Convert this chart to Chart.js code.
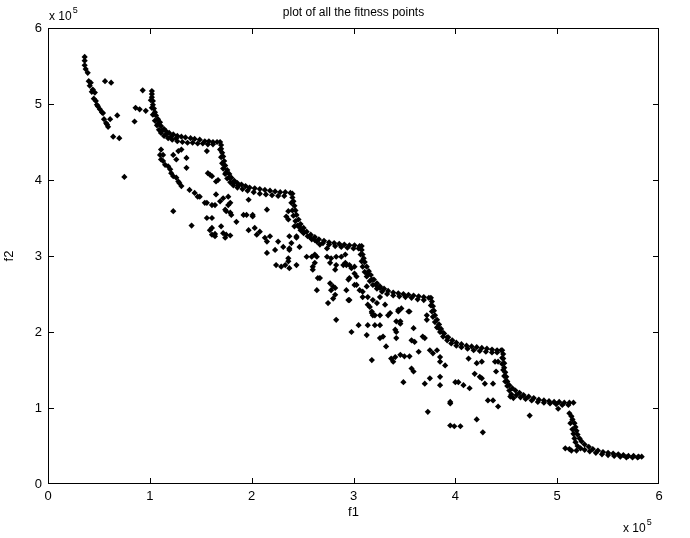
<!DOCTYPE html>
<html>
<head>
<meta charset="utf-8">
<title>plot of all the fitness points</title>
<script src="https://cdn.jsdelivr.net/npm/chart.js@4.4.0/dist/chart.umd.min.js"></script>
<style>
  html, body { margin: 0; padding: 0; background: #fff; }
  canvas { display: block; }
</style>
</head>
<body>
<canvas id="fitness" width="690" height="538"></canvas>
<script>
// all values are in units of 1e5 (the axes carry the "x 10^5" label)
const tickVals = [0, 1, 2, 3, 4, 5, 6];

// the non-dominated front, one scallop at a time
const front1 = [[1.02,5.17],[1.02,5.13],[1.02,5.09],[1.03,5.04],[1.03,4.99],[1.04,4.94],[1.05,4.89],[1.06,4.85],[1.08,4.80],[1.10,4.76],[1.11,4.71],[1.14,4.67],[1.16,4.64],[1.19,4.62],[1.23,4.60],[1.27,4.58],[1.31,4.57],[1.35,4.56],[1.40,4.55],[1.44,4.54],[1.49,4.53],[1.54,4.51],[1.58,4.51],[1.62,4.50],[1.66,4.50],
  [1.01,5.05],[1.02,4.95],[1.03,4.86],[1.05,4.78],[1.07,4.72],[1.09,4.66],[1.11,4.62],[1.14,4.58],[1.18,4.55],[1.22,4.53],[1.27,4.51],[1.32,4.50],[1.37,4.49],[1.42,4.49],[1.47,4.48],[1.52,4.48],[1.57,4.47],[1.62,4.47],
  [1.08,4.74],[1.12,4.65],[1.16,4.60],[1.21,4.57],[1.26,4.55]];
const front2 = [[1.69,4.50],[1.70,4.46],[1.70,4.41],[1.71,4.36],[1.72,4.31],[1.73,4.25],[1.74,4.19],[1.76,4.13],[1.78,4.08],[1.80,4.03],[1.83,3.99],[1.86,3.96],[1.90,3.94],[1.94,3.92],[1.98,3.90],[2.03,3.89],[2.08,3.88],[2.13,3.87],[2.18,3.86],[2.23,3.85],[2.28,3.84],[2.33,3.84],[2.38,3.83],
  [1.69,4.40],[1.70,4.30],[1.71,4.22],[1.72,4.15],[1.74,4.08],[1.76,4.02],[1.79,3.97],[1.82,3.93],[1.86,3.90],[1.91,3.88],[1.96,3.86],[2.02,3.84],[2.08,3.82],[2.14,3.81],[2.20,3.80],[2.26,3.79],[2.32,3.79],
  [1.75,4.10],[1.78,4.03],[1.82,3.96],[1.87,3.93]];
const front3 = [[2.40,3.82],[2.40,3.77],[2.41,3.72],[2.42,3.66],[2.43,3.60],[2.44,3.54],[2.46,3.48],[2.48,3.42],[2.51,3.37],[2.54,3.32],[2.58,3.28],[2.62,3.25],[2.66,3.22],[2.71,3.20],[2.76,3.18],[2.81,3.17],[2.86,3.16],[2.91,3.15],[2.96,3.14],[3.01,3.14],[3.06,3.13],
  [2.39,3.70],[2.40,3.60],[2.41,3.53],[2.43,3.46],[2.45,3.40],[2.48,3.34],[2.51,3.30],[2.55,3.26],[2.59,3.22],[2.64,3.19],[2.70,3.17],[2.76,3.15],[2.82,3.13],[2.88,3.12],[2.94,3.11],[3.00,3.10],[3.05,3.10],
  [2.47,3.38],[2.50,3.33],[2.57,3.25],[2.62,3.21]];
const front4 = [[3.08,3.13],[3.08,3.08],[3.09,3.02],[3.10,2.97],[3.11,2.92],[3.13,2.86],[3.15,2.80],[3.17,2.75],[3.20,2.69],[3.23,2.64],[3.26,2.60],[3.30,2.57],[3.34,2.54],[3.39,2.52],[3.44,2.51],[3.49,2.50],[3.54,2.49],[3.59,2.48],[3.64,2.47],[3.69,2.46],[3.74,2.45],
  [3.07,3.02],[3.08,2.93],[3.09,2.86],[3.11,2.79],[3.13,2.73],[3.16,2.67],[3.19,2.62],[3.23,2.57],[3.28,2.53],[3.33,2.50],[3.39,2.48],[3.45,2.47],[3.51,2.46],[3.57,2.45],[3.63,2.43],[3.69,2.42],
  [3.14,2.76],[3.18,2.69],[3.22,2.62],[3.26,2.58]];
const front5 = [[3.76,2.45],[3.77,2.40],[3.78,2.34],[3.79,2.28],[3.80,2.22],[3.82,2.16],[3.84,2.10],[3.86,2.04],[3.89,1.98],[3.93,1.93],[3.97,1.89],[4.01,1.86],[4.06,1.84],[4.11,1.82],[4.16,1.81],[4.21,1.80],[4.26,1.79],[4.31,1.78],[4.36,1.77],[4.41,1.76],[4.45,1.76],
  [3.76,2.35],[3.77,2.27],[3.78,2.20],[3.80,2.13],[3.82,2.06],[3.85,2.00],[3.88,1.94],[3.92,1.89],[3.96,1.85],[4.01,1.82],[4.06,1.80],[4.12,1.78],[4.18,1.76],[4.24,1.75],[4.30,1.74],[4.36,1.73],[4.41,1.73],
  [3.84,2.05],[3.88,1.99],[3.92,1.93]];
const front6 = [[4.46,1.76],[4.47,1.71],[4.47,1.65],[4.48,1.59],[4.48,1.53],[4.49,1.47],[4.50,1.41],[4.51,1.35],[4.53,1.30],[4.56,1.26],[4.59,1.23],[4.63,1.20],[4.67,1.17],[4.72,1.15],[4.77,1.13],[4.82,1.11],[4.87,1.10],[4.92,1.09],[4.97,1.08],[5.02,1.08],[5.07,1.07],[5.12,1.07],[5.16,1.07],
  [4.46,1.66],[4.46,1.58],[4.47,1.50],[4.48,1.42],[4.49,1.35],[4.51,1.29],[4.53,1.23],[4.55,1.18],[4.57,1.13],[4.60,1.17],[4.64,1.14],[4.69,1.12],[4.75,1.10],[4.81,1.08],[4.87,1.07],[4.93,1.06],[4.99,1.05],[5.05,1.04],[5.11,1.04],[5.01,0.99],[4.54,1.15]];
const front7 = [[5.12,0.93],[5.14,0.89],[5.15,0.85],[5.17,0.80],[5.18,0.75],[5.19,0.70],[5.20,0.65],[5.22,0.60],[5.24,0.56],[5.27,0.52],[5.31,0.49],[5.35,0.46],[5.40,0.44],[5.45,0.42],[5.50,0.41],[5.55,0.40],[5.60,0.39],[5.65,0.38],[5.70,0.37],[5.75,0.37],[5.80,0.36],[5.83,0.36],
  [5.13,0.80],[5.15,0.72],[5.16,0.66],[5.17,0.60],[5.18,0.55],[5.20,0.50],[5.23,0.47],[5.27,0.45],[5.32,0.43],[5.38,0.41],[5.44,0.39],[5.50,0.38],[5.56,0.37],[5.62,0.36],[5.68,0.35],[5.74,0.35],[5.79,0.35],
  [5.08,0.47],[5.12,0.46],[5.14,0.44],[5.19,0.44]];

// dominated points below the front
const scatterLeft = [[0.36,5.62],[0.36,5.57],[0.36,5.51],[0.37,5.46],[0.39,5.41],[0.40,5.30],[0.42,5.28],[0.41,5.24],[0.44,5.19],[0.43,5.16],[0.46,5.15],[0.45,5.07],[0.47,5.04],[0.48,4.99],[0.49,4.97],[0.51,4.93],[0.53,4.89],[0.54,4.88],[0.55,4.80],[0.57,4.75],[0.58,4.73],[0.59,4.70],[0.56,5.30],[0.62,5.28],[0.68,4.85],[0.61,4.80],[0.64,4.57],[0.70,4.55],[0.75,4.04],[0.93,5.18],[0.86,4.95],[0.90,4.93],[0.96,4.91],[0.85,4.77]];
const scatterA = [[1.11,4.40],[1.13,4.33],[1.10,4.33],[1.11,4.27],[1.13,4.25],[1.15,4.20],[1.18,4.18],[1.23,4.33],[1.28,4.38],[1.31,4.40],[1.26,4.27],[1.36,4.29],[1.36,4.16],[1.20,4.14],[1.21,4.09],[1.23,4.05],[1.26,4.03],[1.28,3.98],[1.29,3.96],[1.31,3.92],[1.39,3.87],[1.44,3.83],[1.47,3.78],[1.49,3.78],[1.54,3.70],[1.56,3.70],[1.61,3.67],[1.65,3.81],[1.59,4.07],[1.56,4.38],[1.57,4.09],[1.61,4.05],[1.65,3.98],[1.67,4.00],[1.23,3.59],[1.41,3.40],[1.56,3.50],[1.61,3.50],[1.59,3.34],[1.61,3.37],[1.61,3.28],[1.64,3.29],[1.64,3.26],[1.70,3.39],[1.72,3.30],[1.74,3.24],[1.75,3.28],[1.79,3.27],[1.79,3.70],[1.77,3.78],[1.72,3.76],[1.64,3.67],[1.77,3.67],[1.69,3.72],[1.74,3.61],[1.79,3.57],[1.75,3.59],[1.80,3.54],[1.85,3.45],[1.92,3.54],[1.95,3.54],[1.97,3.74],[1.97,3.34],[2.01,3.54],[2.01,3.52],[2.03,3.37],[2.05,3.28],[2.08,3.32],[2.13,3.24],[2.15,3.19],[2.18,3.26],[2.15,3.61]];
const scatterB = [[2.15,3.04],[2.23,3.08],[2.24,2.88],[2.29,2.86],[2.33,2.88],[2.36,2.93],[2.37,2.84],[2.44,2.88],[2.26,3.19],[2.31,3.12],[2.37,3.08],[2.37,3.10],[2.39,3.17],[2.44,3.24],[2.44,3.26],[2.36,3.59],[2.34,3.52],[2.36,3.48],[2.42,3.39],[2.37,3.26],[2.47,3.12],[2.36,2.97],[2.60,2.82],[2.62,2.91],[2.54,2.99],[2.59,2.99],[2.64,2.99],[2.62,3.02],[2.60,2.86],[2.65,2.71],[2.67,2.71],[2.77,2.64],[2.80,2.60],[2.78,2.55],[2.64,2.55],[2.75,2.38],[2.82,2.49],[2.83,2.16],[2.98,2.00],[3.05,2.09],[3.14,2.09],[3.13,1.96],[3.21,2.09],[3.26,2.09],[3.29,1.94],[3.32,1.81],[3.36,2.25],[3.14,2.36],[3.16,2.33],[3.18,2.25],[3.23,2.38],[3.26,2.46],[3.42,2.14],[3.42,2.00],[2.96,2.42],[2.95,2.42],[2.93,2.55],[3.06,2.55],[3.03,2.73],[3.01,2.77],[2.96,2.71],[2.95,2.69],[2.90,2.88],[2.83,2.88],[2.93,2.88],[2.92,2.91],[2.96,2.88],[2.98,2.84],[3.01,2.86],[2.78,2.97],[2.88,2.99],[2.74,3.10],[2.74,2.99],[2.83,2.99],[2.92,3.02],[2.77,2.91],[2.67,3.15],[2.82,2.82],[2.82,2.58],[2.80,2.44],[3.01,2.62],[3.03,2.62],[3.09,2.46],[3.13,2.60],[3.09,2.53],[3.14,2.46],[3.19,2.42],[3.18,2.27],[3.19,2.22],[3.21,2.22],[3.26,2.22],[3.31,2.36],[3.34,2.22],[3.44,2.27],[3.47,2.31],[3.46,2.11]];
const scatterC = [[3.18,1.63],[3.26,1.92],[3.41,2.03],[3.42,1.92],[3.37,1.65],[3.41,1.67],[3.46,1.70],[3.50,1.68],[3.55,1.68],[3.39,1.61],[3.46,2.14],[3.54,2.27],[3.44,2.29],[3.55,2.27],[3.59,2.05],[3.57,1.89],[3.60,1.87],[3.64,1.74],[3.57,1.52],[3.59,1.48],[3.49,1.34],[3.70,1.92],[3.68,1.94],[3.75,1.76],[3.72,2.16],[3.72,2.22],[3.75,1.39],[3.70,1.32],[3.85,1.41],[3.85,1.30],[3.78,1.72],[3.82,1.76],[3.85,1.61],[3.85,1.67],[3.90,1.56],[4.00,1.34],[4.03,1.34],[4.08,1.30],[4.14,1.26],[3.95,1.08],[3.95,1.06],[3.73,0.95],[3.95,0.77],[3.99,0.76],[4.05,0.76],[4.21,0.85],[4.27,0.68],[4.13,1.65],[4.21,1.59],[4.26,1.61],[4.19,1.45],[4.24,1.41],[4.26,1.39],[4.29,1.32],[4.37,1.32],[4.32,1.10],[4.37,1.10],[4.42,1.02],[4.40,1.48],[4.39,1.61],[4.42,1.61],[4.73,0.90]];

const allPts = [].concat(front1, front2, front3, front4, front5, front6, front7,
  scatterLeft, scatterA, scatterB, scatterC).map(p => ({x: p[0], y: p[1]}));

const FONT = 'Arial, "Liberation Sans", Helvetica, sans-serif';

function drawExp(ctx, x, y) {
  ctx.textAlign = 'left';
  ctx.font = '12px ' + FONT;
  ctx.fillText('x 10', x, y);
  let w = ctx.measureText('x 10').width;
  ctx.font = '9px ' + FONT;
  ctx.fillText('5', x + w + 1, y - 7);
}

// matlab style box with inward ticks, title and exponent labels
const matlabBox = {
  id: 'matlabBox',
  afterDraw(chart) {
    const {ctx, chartArea: a, scales} = chart;
    ctx.save();
    ctx.strokeStyle = '#000';
    ctx.lineWidth = 1;
    ctx.strokeRect(a.left + 0.5, a.top + 0.5, a.right - a.left - 1, a.bottom - a.top - 1);
    ctx.beginPath();
    tickVals.slice(1, -1).forEach(v => {
      let px = Math.round(scales.x.getPixelForValue(v)) + 0.5;
      ctx.moveTo(px, a.bottom); ctx.lineTo(px, a.bottom - 6);
      ctx.moveTo(px, a.top); ctx.lineTo(px, a.top + 6);
      let py = Math.round(scales.y.getPixelForValue(v)) + 0.5;
      ctx.moveTo(a.left, py); ctx.lineTo(a.left + 6, py);
      ctx.moveTo(a.right, py); ctx.lineTo(a.right - 6, py);
    });
    ctx.stroke();

    ctx.fillStyle = '#000';
    ctx.font = '12px ' + FONT;
    ctx.textAlign = 'center';
    ctx.fillText('plot of all the fitness points', (a.left + a.right) / 2, 16);
    drawExp(ctx, a.left + 1, 20);
    drawExp(ctx, a.right - 36, 532);
    ctx.restore();
  }
};

const axisFont = {size: 13, family: FONT};

new Chart(document.getElementById('fitness'), {
  type: 'scatter',
  data: {
    datasets: [{
      data: allPts,
      pointStyle: 'rectRot',
      pointRadius: 3.1,
      pointBackgroundColor: '#000',
      pointBorderWidth: 0,
      showLine: false
    }]
  },
  options: {
    responsive: false,
    animation: false,
    events: [],
    layout: {padding: {top: 28, right: 31, bottom: 0, left: 0}},
    plugins: {legend: {display: false}, tooltip: {enabled: false}},
    scales: {
      x: {
        type: 'linear', min: 0, max: 6,
        afterBuildTicks: s => { s.ticks = tickVals.map(v => ({value: v})); },
        afterFit: s => { s.height = 54; },
        grid: {display: false, drawTicks: false},
        border: {display: false},
        ticks: {padding: 5, color: '#000', font: axisFont, callback: v => v},
        title: {display: true, text: 'f1', color: '#000', font: axisFont, padding: {top: 0, bottom: 18}}
      },
      y: {
        type: 'linear', min: 0, max: 6,
        afterBuildTicks: s => { s.ticks = tickVals.map(v => ({value: v})); },
        afterFit: s => { s.width = 48; },
        grid: {display: false, drawTicks: false},
        border: {display: false},
        ticks: {padding: 6, color: '#000', font: axisFont, callback: v => v},
        title: {display: true, text: 'f2', color: '#000', font: axisFont, padding: {top: 2, bottom: 0}}
      }
    }
  },
  plugins: [matlabBox]
});
</script>
</body>
</html>
